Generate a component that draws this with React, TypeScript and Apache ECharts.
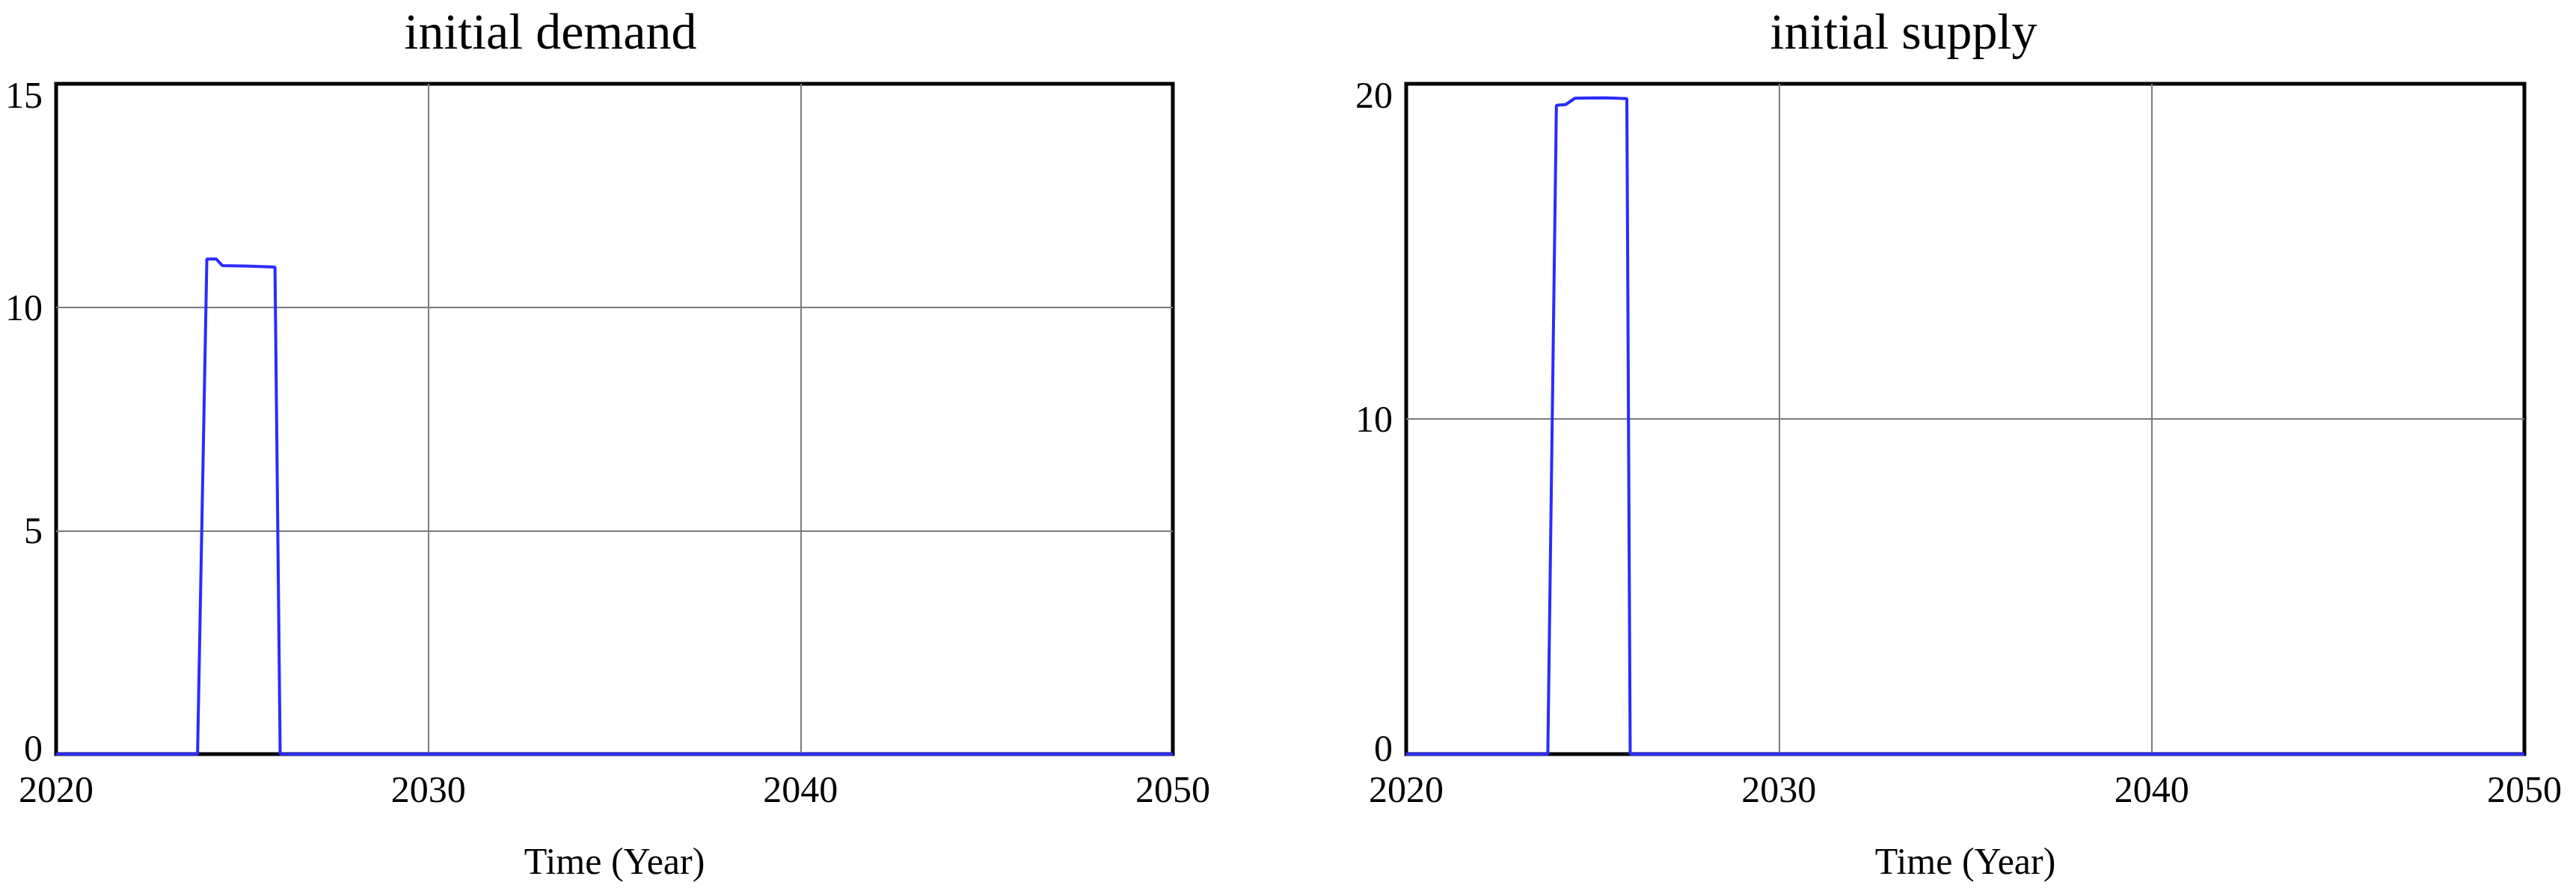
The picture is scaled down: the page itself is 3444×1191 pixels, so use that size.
import React, { useEffect, useRef } from "react";
import * as echarts from "echarts";

// ---- data ----
const xTicks = [2020, 2030, 2040, 2050];

const demandTime = [2020, 2023.8, 2024.05, 2024.3, 2024.47, 2025.2, 2025.88, 2026.02, 2050];
const demandValue = [0, 0, 11.08, 11.08, 10.93, 10.92, 10.9, 0, 0];

const supplyTime = [2020, 2023.8, 2024.03, 2024.28, 2024.53, 2025.3, 2025.92, 2026.01, 2050];
const supplyValue = [0, 0, 19.36, 19.38, 19.57, 19.58, 19.56, 0, 0];

const titles = ["initial demand", "initial supply"];
const xName = "Time (Year)";
const yMax = [15, 20];
const yInterval = [5, 10];

const FONT = "Liberation Serif";

function pairs(t: number[], v: number[]) {
  return t.map((x, i) => [x, v[i]]);
}

export default function App() {
  const ref = useRef<HTMLDivElement>(null);

  useEffect(() => {
    if (!ref.current) return;
    const chart = echarts.init(ref.current, undefined, { renderer: "svg" });

    const grids = [
      { left: 75, top: 112, width: 1493, height: 896 },
      { left: 1880, top: 112, width: 1495, height: 896 },
    ];

    const base = { fontFamily: FONT, fontSize: 50, color: "#000", lineHeight: 52 };

    const yAxisFor = (i: number) => ({
      type: "value",
      gridIndex: i,
      min: 0,
      max: yMax[i],
      interval: yInterval[i],
      axisLine: { show: false },
      axisTick: { show: false },
      splitLine: {
        show: true,
        showMinLine: false,
        showMaxLine: false,
        lineStyle: { color: "#7a7a7a", width: 2 },
      },
      axisLabel: {
        margin: 18,
        ...base,
        formatter: (v: number) =>
          v === yMax[i]
            ? `{sp1| }\n{v|${v}}`
            : v === 0
            ? `{v|${v}}\n{sp2| }`
            : `{v|${v}}`,
        rich: {
          v: { ...base },
          sp1: { fontFamily: FONT, fontSize: 10, lineHeight: 30 },
          sp2: { fontFamily: FONT, fontSize: 10, lineHeight: 16 },
        },
      },
    });

    const xAxisFor = (i: number) => ({
      type: "value",
      gridIndex: i,
      min: xTicks[0],
      max: xTicks[xTicks.length - 1],
      interval: 10,
      name: xName,
      nameLocation: "middle",
      nameGap: 118,
      nameTextStyle: { fontFamily: FONT, fontSize: 50, color: "#000" },
      axisLine: { show: false },
      axisTick: { show: false },
      splitLine: {
        show: true,
        showMinLine: false,
        showMaxLine: false,
        lineStyle: { color: "#7a7a7a", width: 2 },
      },
      axisLabel: {
        margin: 22,
        fontFamily: FONT,
        fontSize: 50,
        color: "#000",
        formatter: (v: number) => String(v),
      },
    });

    chart.setOption({
      animation: false,
      backgroundColor: "#fff",
      grid: grids.map((g) => ({
        ...g,
        show: true,
        borderColor: "#000",
        borderWidth: 5,
        backgroundColor: "transparent",
      })),
      xAxis: [xAxisFor(0), xAxisFor(1)],
      yAxis: [yAxisFor(0), yAxisFor(1)],
      graphic: [
        {
          type: "text",
          x: 736,
          y: 42,
          style: {
            text: titles[0],
            fontFamily: FONT,
            fontSize: 68,
            fill: "#000",
            align: "center",
            verticalAlign: "middle",
          },
        },
        {
          type: "text",
          x: 2545,
          y: 42,
          style: {
            text: titles[1],
            fontFamily: FONT,
            fontSize: 68,
            fill: "#000",
            align: "center",
            verticalAlign: "middle",
          },
        },
      ],
      series: [
        {
          type: "line",
          xAxisIndex: 0,
          yAxisIndex: 0,
          data: pairs(demandTime, demandValue),
          showSymbol: false,
          symbol: "none",
          lineStyle: { color: "#2b2bff", width: 4 },
          z: 5,
        },
        {
          type: "line",
          xAxisIndex: 1,
          yAxisIndex: 1,
          data: pairs(supplyTime, supplyValue),
          showSymbol: false,
          symbol: "none",
          lineStyle: { color: "#2b2bff", width: 4 },
          z: 5,
        },
      ],
    });

    return () => chart.dispose();
  }, []);

  return (
    <div
      ref={ref}
      style={{ position: "absolute", left: 0, top: 0, width: 3444, height: 1191 }}
    />
  );
}
